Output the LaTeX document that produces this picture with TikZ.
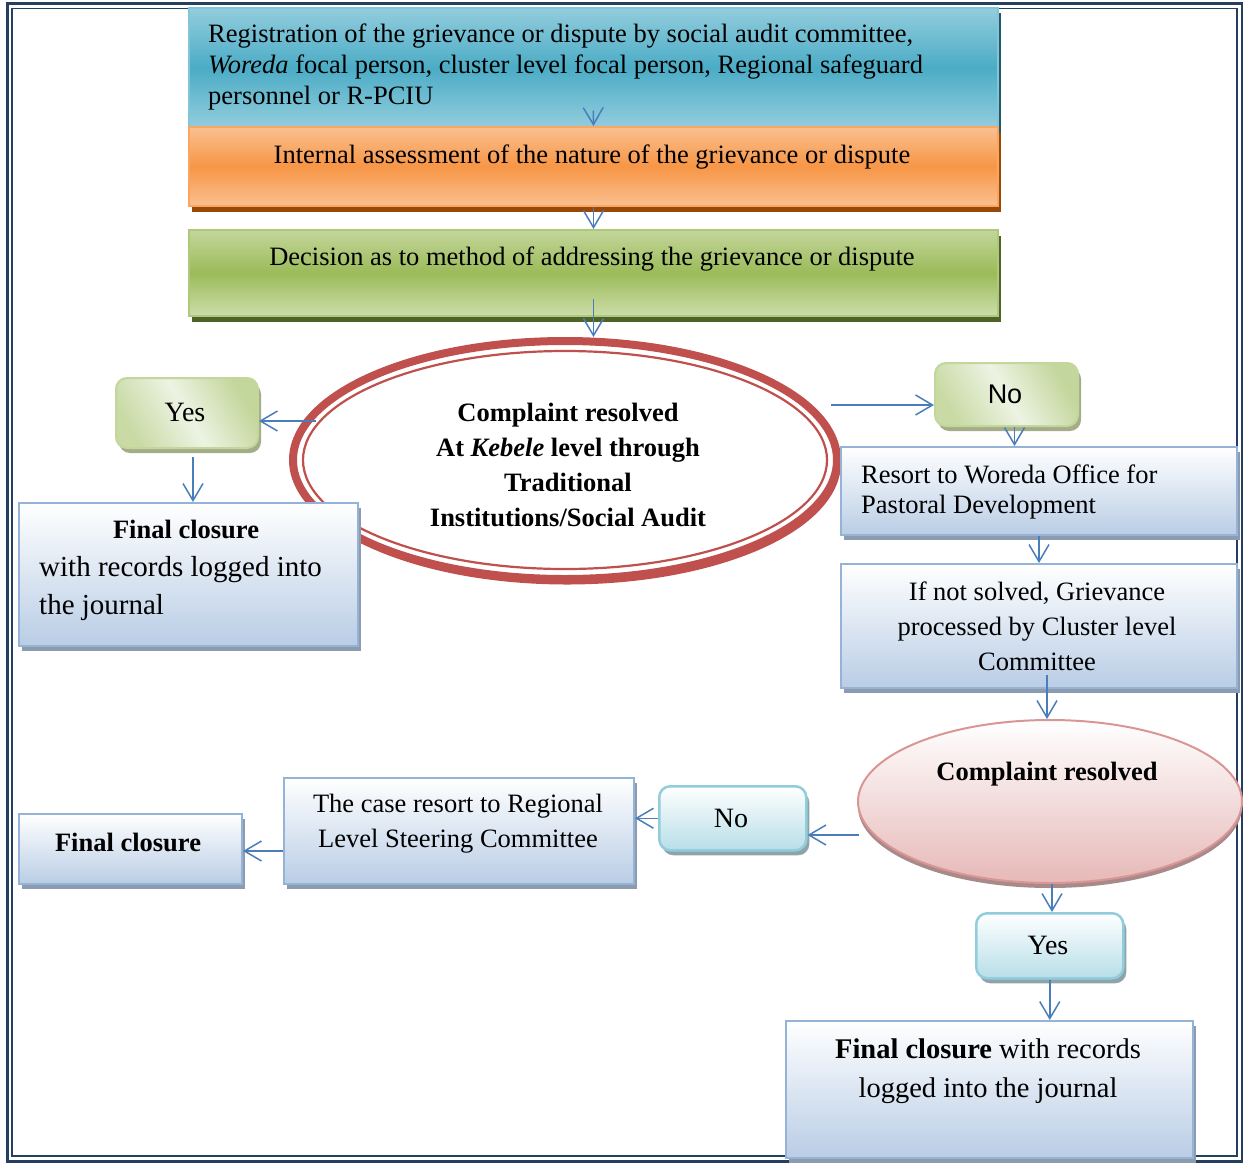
\documentclass[tikz,border=0pt]{standalone}
\usepackage{fontspec}
\setmainfont{Liberation Serif}
\newfontfamily\sansf{Liberation Sans}
\usetikzlibrary{shapes.geometric,arrows.meta,shadows,calc}
\definecolor{framec}{HTML}{243F60}
\definecolor{arrc}{HTML}{4A7EBB}
\definecolor{ringc}{HTML}{C0504D}
\definecolor{bTop}{HTML}{93CDDD}
\definecolor{bMid}{HTML}{4BACC6}
\definecolor{bSh}{HTML}{215968}
\definecolor{oTop}{HTML}{FAC090}
\definecolor{oMid}{HTML}{F79646}
\definecolor{oSh}{HTML}{984807}
\definecolor{gTop}{HTML}{C3D69B}
\definecolor{gMid}{HTML}{9BBB59}
\definecolor{gBot}{HTML}{CDDDAA}
\definecolor{gSh}{HTML}{4F6228}
\definecolor{blBot}{HTML}{B9CDE5}
\definecolor{blDraw}{HTML}{95B3D7}
\definecolor{blSh}{HTML}{8D9BB0}
\definecolor{pgDraw}{HTML}{C3D69B}
\definecolor{pgLight}{HTML}{EDF3E3}
\definecolor{pgSh}{HTML}{A4AC88}
\definecolor{tlBot}{HTML}{B7DEE8}
\definecolor{tlDraw}{HTML}{92CDDC}
\definecolor{tlSh}{HTML}{8FA4AA}
\definecolor{rsBot}{HTML}{E6B9B8}
\definecolor{rsDraw}{HTML}{D99694}
\definecolor{rsSh}{HTML}{A88A8A}
\tikzset{
  arr/.style={draw=arrc, line width=1.5pt,
    -{Straight Barb[length=17pt,width=20pt,line width=1.5pt]}},
  boxbase/.style={rectangle, inner sep=0pt, anchor=north west},
  topbox/.style={boxbase, draw=bMid!70!white, line width=1.5pt,
    top color=bTop, bottom color=bTop, middle color=bMid,
    drop shadow={shadow xshift=3pt, shadow yshift=-5pt, fill=bSh, opacity=1}},
  orbox/.style={boxbase, draw=oMid!85!white, line width=2pt,
    top color=oTop, bottom color=oTop, middle color=oMid,
    drop shadow={shadow xshift=3pt, shadow yshift=-6pt, fill=oSh, opacity=1}},
  grbox/.style={boxbase, draw=gMid!80!white, line width=2pt,
    top color=gTop, bottom color=gBot, middle color=gMid,
    drop shadow={shadow xshift=3pt, shadow yshift=-6pt, fill=gSh, opacity=1}},
  bluebox/.style={boxbase, draw=blDraw, line width=2pt,
    top color=white, bottom color=blBot,
    drop shadow={shadow xshift=3pt, shadow yshift=-5pt, fill=blSh, opacity=1}},
  greenpill/.style={boxbase, rounded corners=11pt, draw=pgDraw, line width=2pt,
    left color=gTop!90!white, right color=gTop, middle color=pgLight, shading angle=120,
    drop shadow={shadow xshift=3pt, shadow yshift=-5pt, fill=pgSh, opacity=1}},
  tealpill/.style={boxbase, rounded corners=11pt, draw=tlDraw, line width=2.5pt,
    top color=white, bottom color=tlBot,
    drop shadow={shadow xshift=3pt, shadow yshift=-5pt, fill=tlSh, opacity=1}},
  txt/.style={inner sep=0pt, font=\fontsize{26.5}{31}\selectfont},
}
\begin{document}
\begin{tikzpicture}[x=1pt,y=-1pt]
\useasboundingbox (0,0) rectangle (1243,1163);
% frame
\draw[framec, line width=3pt] (7,3) rectangle (1242,1161);
\draw[framec, line width=1.2pt] (12,8.5) rectangle (1237,1156);

% top boxes
\node[topbox, minimum width=809pt, minimum height=120pt] (box1) at (188,7) {};
\node[orbox, minimum width=809pt, minimum height=79pt] (box2) at (188,126) {};
\node[grbox, minimum width=809pt, minimum height=86pt] (box3) at (188,229) {};

\node[txt, anchor=west, align=left] (t1) at (208,67)
  {Registration of the grievance or dispute by social audit committee,\\
   \textit{Woreda} focal person, cluster level focal person, Regional safeguard\\
   personnel or R-PCIU};
\node[txt] (t2) at (592,157) {Internal assessment of the nature of the grievance or dispute};
\node[txt] (t3) at (592,259) {Decision as to method of addressing the grievance or dispute};

% big ellipse
\draw[ringc, line width=8pt] (567,462.5) ellipse [x radius=270pt, y radius=118pt];
\node[ellipse, draw=ringc, line width=8pt, fill=white, inner sep=0pt,
      minimum width=544pt, minimum height=238pt] (ell1) at (565,460) {};
\draw[ringc, line width=2.2pt] (ell1.center) ellipse [x radius=262pt, y radius=109pt];
\node[txt, align=center, font=\fontsize{26.5}{35}\selectfont\bfseries] (te1) at (568,465)
  {Complaint resolved\\ At \textit{Kebele} level through\\ Traditional\\ Institutions/Social Audit};

% left branch
\node[greenpill, minimum width=142pt, minimum height=70pt] (yes1) at (115,377) {};
\node[txt, font=\fontsize{28}{31}\selectfont] (ty1) at (185,412) {Yes};
\node[bluebox, minimum width=339pt, minimum height=143pt] (fc1) at (18,502) {};
\node[txt, font=\fontsize{26.5}{31}\selectfont\bfseries] (tf1a) at (186,529) {Final closure};
\node[txt, anchor=west, align=left, font=\fontsize{29}{38}\selectfont] (tf1b) at (39,589)
  {with records logged into\\ the journal};

% right branch
\node[greenpill, minimum width=143pt, minimum height=63pt] (no1) at (934,362) {};
\node[txt, font=\fontsize{27}{31}\sansf] (tn1) at (1005,394) {No};
\node[bluebox, minimum width=396pt, minimum height=88pt] (res) at (840,446) {};
\node[txt, anchor=west, align=left, font=\fontsize{26.5}{30}\selectfont] (tr) at (861,492)
  {Resort to Woreda Office for\\ Pastoral Development};
\node[bluebox, minimum width=396pt, minimum height=124pt] (ifb) at (840,563) {};
\node[txt, align=center, font=\fontsize{26.5}{35}\selectfont] (ti) at (1037,626)
  {If not solved, Grievance\\ processed by Cluster level\\ Committee};

% second ellipse
\node[ellipse, draw=rsDraw, line width=2pt, top color=white, bottom color=rsBot,
      inner sep=0pt, minimum width=384pt, minimum height=163pt,
      drop shadow={shadow xshift=0pt, shadow yshift=-5pt, fill=rsSh, opacity=1}] (ell2) at (1050,801.5) {};
\node[txt, font=\fontsize{26.5}{31}\selectfont\bfseries] (te2) at (1047,774) {Complaint resolved};

\node[tealpill, minimum width=147pt, minimum height=64pt] (no2) at (658,785) {};
\node[txt, font=\fontsize{28}{31}\selectfont] (tn2) at (731,818) {No};
\node[bluebox, minimum width=350pt, minimum height=106pt] (cas) at (283,777) {};
\node[txt, align=center, font=\fontsize{26.5}{34.5}\selectfont] (tc) at (458,823.5)
  {The case resort to Regional\\ Level Steering Committee};
\node[bluebox, minimum width=223pt, minimum height=70pt] (fc2) at (18,813) {};
\node[txt, font=\fontsize{26.5}{31}\selectfont\bfseries] (tf2) at (128,842) {Final closure};

\node[tealpill, minimum width=147pt, minimum height=65pt] (yes2) at (975,912) {};
\node[txt, font=\fontsize{28}{31}\selectfont] (ty2) at (1048,945) {Yes};
\node[bluebox, minimum width=407pt, minimum height=137pt] (fc3) at (785,1020) {};
\node[txt, align=center, font=\fontsize{28.5}{38.5}\selectfont] (tf3) at (988,1071)
  {\textbf{Final closure} with records\\ logged into the journal};

% connectors
\coordinate (e1y) at (316,421);
\coordinate (e1n) at (831,405);
\coordinate (e2n) at (859,835);
\draw[arr] ([yshift=18pt]box1.south) -- (box2.north);
\draw[arr] (box2.south) -- (box3.north);
\draw[arr] ([yshift=18pt]box3.south) -- (box3.south |- ell1.north);
\draw[arr] (e1y) -- (e1y -| yes1.east);
\draw[arr] ([xshift=6pt,yshift=-8pt]yes1.south) -- ([xshift=6pt]yes1.south |- fc1.north);
\draw[arr] (e1n) -- (e1n -| no1.west);
\draw[arr] ([xshift=8pt]no1.south) -- ([xshift=8pt]no1.south |- res.north);
\draw[arr] (res.south) -- (ifb.north);
\draw[arr] ([xshift=8pt,yshift=14pt]ifb.south) -- ([xshift=8pt]ifb.south |- ell2.north);
\draw[arr] (e2n) -- (e2n -| no2.east);
\draw[arr] (no2.west) -- (no2.west -| cas.east);
\draw[arr] ([yshift=-2pt]cas.west |- fc2.east) -- ([yshift=-2pt]fc2.east);
\draw[arr] ([xshift=2pt]ell2.south) -- ([xshift=2pt]ell2.south |- yes2.north);
\draw[arr] (yes2.south) -- (yes2.south |- fc3.north);
\end{tikzpicture}
\end{document}
